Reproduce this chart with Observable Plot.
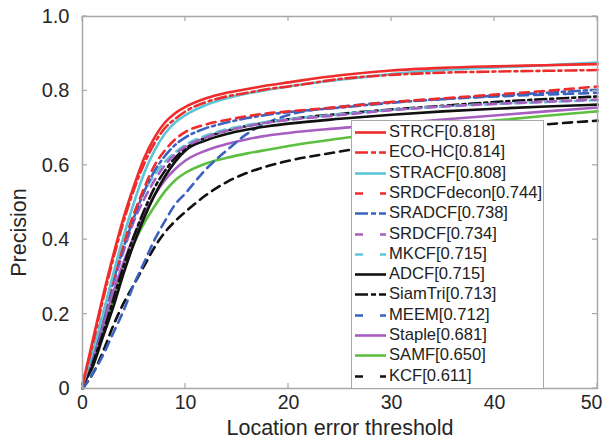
<!DOCTYPE html>
<html>
<head>
<meta charset="utf-8">
<script src="https://cdn.jsdelivr.net/npm/d3@7"></script>
<script src="https://cdn.jsdelivr.net/npm/@observablehq/plot@0.6"></script>
<style>
  html, body { margin: 0; padding: 0; background: #fff; }
  #wrap { position: relative; width: 603px; height: 439px; font-family: "Liberation Sans", Arial, sans-serif; }
  #legend { position: absolute; left: 351px; top: 120px; width: 191px; height: 267px; border: 1px solid #a8a8a8; background: #fff; }
  .row { position: absolute; left: 0; height: 20px; display: flex; align-items: center; }
  .row span { font-size: 16.6px; color: #222; margin-left: 2px; white-space: nowrap; }
</style>
</head>
<body>
<div id="wrap"></div>
<script>
// ---- data ----
const thresholds = [0,1,2,3,4,5,6,7,8,9,10,12,14,16,18,20,25,30,35,40,45,50];

const names  = ["STRCF","ECO-HC","STRACF","SRDCFdecon","SRADCF","SRDCF","MKCF","ADCF","SiamTri","MEEM","Staple","SAMF","KCF"];
const scores = ["0.818","0.814","0.808","0.744","0.738","0.734","0.715","0.715","0.713","0.712","0.681","0.650","0.611"];
const colors = ["#ee2c2c","#ee2c2c","#5cc6d6","#ee2c2c","#3a62c0","#a65fc0","#5cc6d6","#111111","#111111","#3a62c0","#a65fc0","#5cbf40","#111111"];
const styles = ["solid","dashdot","solid","dashed","dashdot","dashed","dashed","solid","dashdot","dashed","solid","solid","dashed"];

const STRCF      = [0.01,0.13,0.25,0.36,0.46,0.545,0.62,0.675,0.715,0.74,0.757,0.78,0.795,0.805,0.815,0.823,0.842,0.855,0.862,0.866,0.869,0.872];
const ECOHC      = [0.01,0.12,0.24,0.35,0.45,0.535,0.605,0.66,0.70,0.725,0.745,0.77,0.785,0.795,0.805,0.812,0.832,0.843,0.849,0.852,0.854,0.856];
const STRACF     = [0.01,0.10,0.20,0.31,0.41,0.50,0.58,0.64,0.685,0.715,0.735,0.762,0.78,0.793,0.803,0.812,0.83,0.845,0.856,0.863,0.869,0.876];
const SRDCFdecon = [0.01,0.10,0.20,0.30,0.39,0.47,0.54,0.60,0.64,0.67,0.69,0.71,0.722,0.732,0.74,0.745,0.757,0.77,0.78,0.79,0.80,0.812];
const SRADCF     = [0.01,0.09,0.19,0.29,0.38,0.46,0.53,0.585,0.625,0.655,0.675,0.70,0.715,0.727,0.736,0.743,0.755,0.768,0.778,0.787,0.795,0.803];
const SRDCF      = [0.01,0.09,0.18,0.28,0.37,0.45,0.51,0.56,0.60,0.63,0.65,0.675,0.693,0.705,0.715,0.722,0.735,0.748,0.758,0.765,0.771,0.777];
const MKCF       = [0.01,0.10,0.20,0.30,0.39,0.47,0.53,0.575,0.61,0.635,0.655,0.68,0.697,0.708,0.717,0.724,0.737,0.749,0.758,0.765,0.77,0.775];
const ADCF       = [0.01,0.06,0.14,0.22,0.31,0.39,0.46,0.52,0.57,0.61,0.64,0.667,0.684,0.696,0.705,0.712,0.725,0.736,0.745,0.752,0.758,0.763];
const SiamTri    = [0.01,0.07,0.15,0.24,0.33,0.41,0.48,0.54,0.585,0.62,0.645,0.675,0.693,0.706,0.716,0.724,0.738,0.75,0.76,0.77,0.778,0.785];
const MEEM       = [0.00,0.04,0.09,0.15,0.21,0.28,0.34,0.40,0.45,0.495,0.525,0.59,0.64,0.685,0.715,0.735,0.757,0.77,0.778,0.785,0.79,0.795];
const Staple     = [0.01,0.08,0.17,0.26,0.34,0.41,0.47,0.52,0.56,0.59,0.613,0.64,0.657,0.67,0.68,0.687,0.70,0.712,0.723,0.734,0.745,0.755];
const SAMF       = [0.01,0.06,0.15,0.24,0.32,0.39,0.445,0.49,0.53,0.56,0.58,0.605,0.62,0.632,0.642,0.652,0.672,0.69,0.706,0.72,0.733,0.745];
const KCF        = [0.00,0.04,0.10,0.17,0.23,0.28,0.33,0.38,0.42,0.45,0.475,0.52,0.555,0.58,0.598,0.612,0.637,0.66,0.68,0.697,0.71,0.72];

const seriesValues = [STRCF,ECOHC,STRACF,SRDCFdecon,SRADCF,SRDCF,MKCF,ADCF,SiamTri,MEEM,Staple,SAMF,KCF];

const xTicks = [0,10,20,30,40,50];
const yTicks = [0,0.2,0.4,0.6,0.8,1.0];
const yTickLabels = ["0","0.2","0.4","0.6","0.8","1.0"];
const xLabel = "Location error threshold";
const yLabel = "Precision";

// ---- styling ----
const dashPlot = {solid: null, dashed: "9,6", dashdot: "11,4,3,4"};
const dashLegend = {solid: null, dashed: "8,17", dashdot: "13,3,5,3"};
const axisGray = "#a8a8a8";
const textColor = "#262626";

// build tables
const tables = seriesValues.map((vals, i) => thresholds.map((t, j) => ({t, p: vals[j], name: names[i]})));

// inward ticks on all four sides (box style)
function boxTicks(index, scales, values, dims) {
  const {x, y} = scales;
  const L = dims.marginLeft, R = dims.width - dims.marginRight;
  const T = dims.marginTop, B = dims.height - dims.marginBottom;
  const g = d3.create("svg:g").attr("stroke", axisGray).attr("stroke-width", 1.2);
  const len = 5;
  for (const t of xTicks) {
    const px = x(t);
    g.append("line").attr("x1", px).attr("x2", px).attr("y1", B).attr("y2", B - len);
    g.append("line").attr("x1", px).attr("x2", px).attr("y1", T).attr("y2", T + len);
  }
  for (const v of yTicks) {
    const py = y(v);
    g.append("line").attr("x1", L).attr("x2", L + len).attr("y1", py).attr("y2", py);
    g.append("line").attr("x1", R).attr("x2", R - len).attr("y1", py).attr("y2", py);
  }
  return g.node();
}

const lineMarks = [];
for (let i = names.length - 1; i >= 0; i--) {
  lineMarks.push(Plot.line(tables[i], {
    x: "t", y: "p", stroke: colors[i], strokeWidth: 2.6,
    strokeDasharray: dashPlot[styles[i]] || undefined,
    curve: "monotone-x"
  }));
}

const chart = Plot.plot({
  width: 603,
  height: 439,
  marginLeft: 82,
  marginRight: 6,
  marginTop: 16,
  marginBottom: 51,
  style: {fontFamily: "'Liberation Sans', Arial, sans-serif", background: "#fff", color: textColor},
  x: {domain: [0, 50]},
  y: {domain: [0, 1]},
  marks: [
    ...lineMarks,
    Plot.frame({stroke: axisGray, strokeWidth: 1.5}),
    boxTicks,
    Plot.axisX({ticks: xTicks.slice(0, -1), tickSize: 0, tickPadding: 7, fontSize: 19.5, label: null, tickFormat: d => String(d)}),
    Plot.axisX({ticks: xTicks.slice(-1), tickSize: 0, tickPadding: 7, fontSize: 19.5, label: null, dx: -6, tickFormat: d => String(d)}),
    Plot.axisY({ticks: yTicks, tickSize: 0, tickPadding: 13, fontSize: 20, label: null, tickFormat: d => yTickLabels[yTicks.indexOf(d)]}),
    Plot.text([xLabel], {frameAnchor: "bottom", lineAnchor: "middle", textAnchor: "middle", dy: 40, fontSize: 21.5, fill: textColor}),
    Plot.text([yLabel], {frameAnchor: "left", lineAnchor: "middle", textAnchor: "middle", dx: -63, dy: 30, rotate: -90, fontSize: 21.5, fill: textColor})
  ]
});

const wrap = document.getElementById("wrap");
wrap.appendChild(chart);

// legend
const legend = d3.select(wrap).append("div").attr("id", "legend");
names.forEach((n, i) => {
  const row = legend.append("div").attr("class", "row").style("top", (1 + i * 20.3) + "px");
  const s = row.append("svg").attr("width", 35).attr("height", 20);
  s.append("line").attr("x1", 3).attr("x2", 34).attr("y1", 10.5).attr("y2", 10.5)
    .attr("stroke", colors[i]).attr("stroke-width", 2.6)
    .attr("stroke-dasharray", dashLegend[styles[i]]);
  row.append("span").text(n + "[" + scores[i] + "]");
});
</script>
</body>
</html>
